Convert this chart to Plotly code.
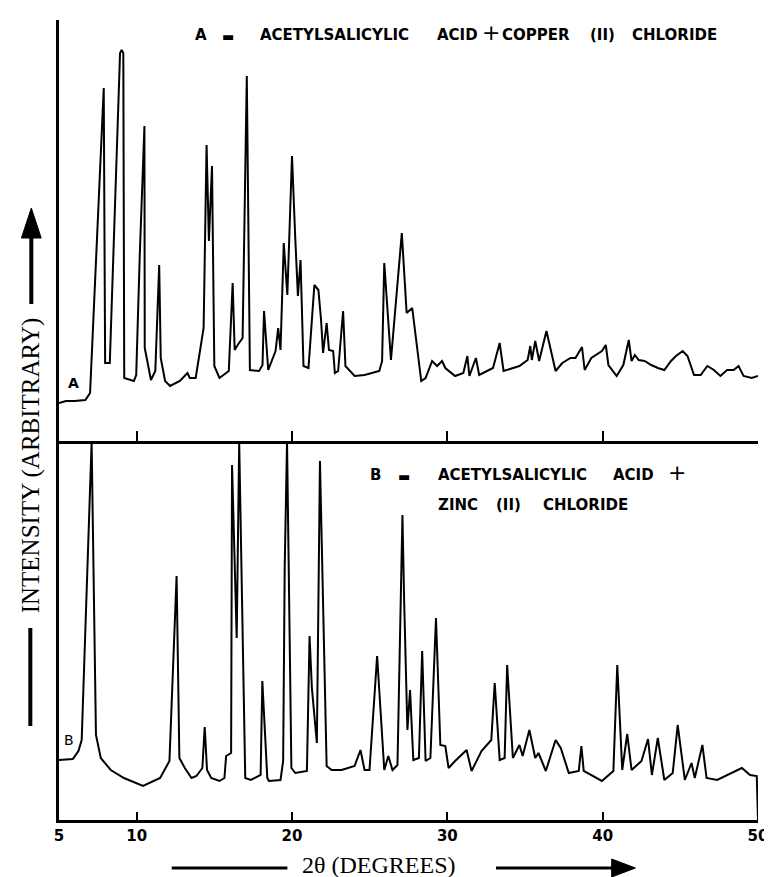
import plotly.graph_objects as go

# ---------------- data (2-theta in degrees, intensity in arbitrary units) -------------
two_theta_a = [5.0, 5.45, 6.0, 6.7, 7.0, 7.88, 7.97, 8.27, 8.93, 9.03, 9.14, 9.17, 9.2, 9.82,
               9.97, 10.2, 10.5, 10.52, 10.77, 10.92, 11.2, 11.35, 11.45, 11.55, 11.83, 12.15,
               12.78, 13.27, 13.42, 13.8, 14.31, 14.5, 14.65, 14.85, 15.0, 15.33, 15.76, 15.93,
               16.18, 16.31, 16.5, 16.82, 17.09, 17.29, 17.88, 18.1, 18.2, 18.47, 18.94, 19.11,
               19.26, 19.47, 19.7, 20.0, 20.21, 20.38, 20.55, 20.74, 21.06, 21.44, 21.7, 21.87,
               22.0, 22.23, 22.38, 22.65, 22.76, 22.97, 23.29, 23.44, 24.03, 24.67, 25.62, 25.8,
               25.94, 26.37, 27.07, 27.38, 27.74, 28.32, 28.6, 29.02, 29.34, 29.66, 29.87, 30.5,
               31.03, 31.29, 31.42, 31.84, 32.05, 32.94, 33.37, 33.62, 34.64, 35.17, 35.34, 35.44,
               35.66, 35.91, 36.38, 36.65, 36.97, 37.4, 37.93, 38.25, 38.67, 38.84, 39.27, 39.95,
               40.2, 40.37, 40.9, 41.33, 41.68, 41.86, 42.07, 42.32, 42.7, 43.13, 43.55, 43.97,
               44.4, 44.72, 45.15, 45.46, 45.88, 46.31, 46.74, 47.16, 47.58, 48.01, 48.43, 48.75,
               49.07, 49.6, 50.0]
intensity_a = [38, 40, 40, 41, 48, 353, 78, 78, 388, 391, 388, 71, 63, 60,
               66, 186, 315, 93, 73, 61, 70, 133, 176, 83, 60, 55,
               60, 68, 63, 63, 113, 296, 200, 275, 75, 63, 68, 70,
               158, 91, 96, 103, 365, 71, 70, 76, 130, 71, 90, 113,
               91, 198, 146, 285, 203, 145, 181, 75, 73, 156, 151, 121,
               88, 118, 91, 90, 68, 70, 130, 75, 65, 66, 70, 80,
               178, 81, 208, 128, 133, 60, 63, 80, 75, 80, 73, 65,
               68, 85, 65, 83, 66, 73, 98, 70, 75, 81, 95, 81,
               100, 80, 110, 93, 70, 78, 83, 83, 94, 71, 83, 90,
               96, 76, 65, 76, 101, 80, 86, 81, 80, 76, 73, 71,
               80, 85, 90, 85, 66, 66, 75, 71, 65, 71, 71, 75,
               65, 63, 65]

two_theta_b = [5.0, 5.89, 6.25, 6.46, 7.1, 7.38, 7.69, 8.33, 9.18, 10.41, 11.51, 12.11, 12.57,
               12.75, 13.1, 13.53, 13.85, 14.23, 14.38, 14.53, 14.8, 15.33, 15.65, 15.76, 16.08,
               16.14, 16.44, 16.6, 16.99, 17.35, 17.98, 18.09, 18.41, 18.51, 19.26, 19.43, 19.53,
               19.68, 19.96, 20.21, 20.96, 21.13, 21.28, 21.6, 21.8, 22.23, 22.55, 23.19, 24.03,
               24.41, 24.67, 24.99, 25.48, 25.94, 26.2, 26.47, 26.79, 27.11, 27.22, 27.43, 27.6,
               27.81, 28.17, 28.38, 28.6, 28.91, 29.27, 29.55, 29.87, 30.08, 30.5, 31.24, 31.56,
               32.2, 32.83, 33.05, 33.37, 33.69, 33.85, 34.22, 34.64, 34.85, 35.28, 35.66, 35.87,
               36.34, 36.97, 37.3, 37.82, 38.46, 38.63, 38.78, 39.95, 40.69, 40.94, 41.26, 41.58,
               41.86, 42.5, 42.92, 43.17, 43.55, 43.97, 44.51, 44.83, 45.29, 45.72, 45.93, 46.42,
               46.69, 47.37, 48.01, 48.96, 49.49, 49.92, 50.0]
intensity_b = [60, 61, 69, 80, 378, 85, 62, 50, 42, 34, 42, 59, 244,
               62, 52, 42, 44, 52, 93, 50, 42, 39, 42, 64, 67,
               355, 182, 378, 42, 40, 45, 139, 42, 39, 40, 59, 252,
               379, 52, 47, 49, 184, 132, 77, 359, 54, 50, 50, 54,
               70, 50, 50, 164, 50, 64, 50, 55, 305, 219, 90, 130,
               60, 62, 169, 59, 62, 202, 75, 74, 52, 59, 70, 49,
               69, 80, 137, 60, 62, 155, 62, 75, 64, 90, 62, 67,
               49, 80, 72, 47, 49, 74, 49, 39, 49, 155, 50, 86,
               50, 59, 81, 45, 82, 40, 47, 95, 40, 57, 42, 75,
               42, 40, 45, 52, 45, 44, 0]

tick_vals = [5, 10, 20, 30, 40, 50]
tick_text = ["5", "10", "20", "30", "40", "50"]

# ---------------- layout geometry ----------------
W, H = 772, 877
ML, MR, MT, MB = 51, 14, 12, 65
PW, PH = W - ML - MR, H - MT - MB
SPLIT = 379 / PH          # panel B height / plot height


def px(x, y):
    return (x - ML) / PW, (H - MB - y) / PH


fig = go.Figure()
fig.add_trace(go.Scatter(x=two_theta_b, y=intensity_b, mode="lines",
                         line=dict(color="black", width=2), xaxis="x", yaxis="y",
                         showlegend=False, hoverinfo="skip"))
fig.add_trace(go.Scatter(x=two_theta_a, y=intensity_a, mode="lines",
                         line=dict(color="black", width=2), xaxis="x2", yaxis="y2",
                         showlegend=False, hoverinfo="skip"))

axis_common = dict(showgrid=False, zeroline=False, linecolor="black", linewidth=2.5,
                   showline=True)
fig.update_layout(
    width=W, height=H, margin=dict(l=ML, r=MR, t=MT, b=MB),
    paper_bgcolor="white", plot_bgcolor="white",
    xaxis=dict(range=[5, 50], anchor="y", tickvals=tick_vals, ticktext=tick_text,
               ticks="inside", ticklen=8, tickwidth=2, tickcolor="black",
               tickfont=dict(family="DejaVu Sans", size=15, color="black", weight="bold"),
               **axis_common),
    xaxis2=dict(range=[5, 50], anchor="y2", matches="x", tickvals=tick_vals[1:],
                ticks="inside", ticklen=10, tickwidth=2, tickcolor="black",
                showticklabels=False, **axis_common),
    yaxis=dict(domain=[0, SPLIT], range=[0, 379], showticklabels=False, ticks="",
               **axis_common),
    yaxis2=dict(domain=[SPLIT, 1], range=[0, 421], showticklabels=False, ticks="",
                **axis_common),
)

ann = []


def add_text(text, x, y, size=15, family="DejaVu Sans", weight="bold", xanchor="left",
             angle=0):
    X, Y = px(x, y)
    ann.append(dict(text=text, x=X, y=Y, xref="paper", yref="paper", showarrow=False,
                    xanchor=xanchor, yanchor="middle", textangle=angle,
                    font=dict(family=family, size=size, color="black", weight=weight)))


# title of panel A, laid out word by word as in the original lettering
add_text("A", 187, 27)
add_text("\u25ac", 214, 28, size=13)
add_text("ACETYLSALICYLIC", 252, 27)
add_text("ACID", 431, 27)
add_text("+", 477, 25, size=22, weight="normal")
add_text("COPPER", 497, 27)
add_text("(II)", 586, 27)
add_text("CHLORIDE", 629, 27)

# title of panel B
add_text("B", 364, 467)
add_text("\u25ac", 392, 468, size=13)
add_text("ACETYLSALICYLIC", 432, 467)
add_text("ACID", 609, 467)
add_text("+", 665, 465, size=22, weight="normal")
add_text("ZINC", 432, 497)
add_text("(II)", 491, 497)
add_text("CHLORIDE", 539, 497)

add_text("A", 66, 375, size=14, xanchor="center")
add_text("B", 61, 732, size=14, weight="normal", xanchor="center")
add_text("INTENSITY (ARBITRARY)", 23, 457, size=25, family="Liberation Serif",
         weight="normal", angle=-90, xanchor="center")
add_text("2\u03b8 (DEGREES)", 374, 857, size=24, family="Liberation Serif",
         weight="normal", xanchor="center")
fig.update_layout(annotations=ann)

shapes = []


def line(x0, y0, x1, y1, w):
    a, b = px(x0, y0)
    c, d = px(x1, y1)
    shapes.append(dict(type="line", xref="paper", yref="paper", x0=a, y0=b, x1=c, y1=d,
                       line=dict(color="black", width=w)))


def tri(points):
    pts = [px(x, y) for x, y in points]
    path = "M " + " L ".join(f"{p[0]},{p[1]}" for p in pts) + " Z"
    shapes.append(dict(type="path", xref="paper", yref="paper", path=path,
                       fillcolor="black", line=dict(color="black", width=1)))


line(23, 296, 23, 226, 4)
tri([(13, 230), (33, 230), (23, 200)])
line(22, 620, 22, 718, 4)
line(165, 860, 282, 860, 3)
line(493, 860, 614, 860, 3)
tri([(610, 851), (610, 869), (634, 860)])
fig.update_layout(shapes=shapes)

fig.write_html("out.html")
